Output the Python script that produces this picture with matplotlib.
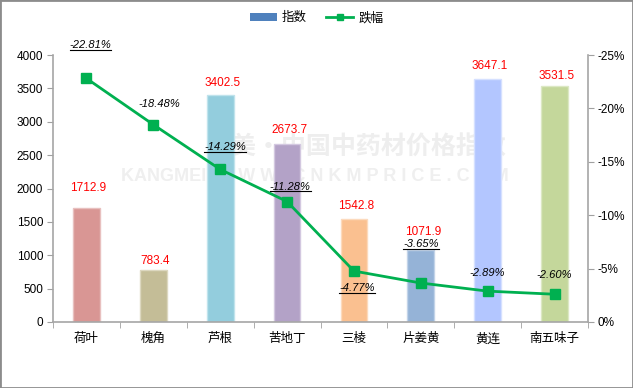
import numpy as np
import matplotlib
matplotlib.use("Agg")
import matplotlib.pyplot as plt
from matplotlib.lines import Line2D
from matplotlib.patches import Patch, Rectangle

plt.rcParams["font.family"] = ["Liberation Sans", "Noto Sans CJK SC", "DejaVu Sans"]

# ---- data ----
categories = ["荷叶", "槐角", "芦根", "苦地丁", "三棱", "片姜黄", "黄连", "南五味子"]
index_vals = [1712.9, 783.4, 3402.5, 2673.7, 1542.8, 1071.9, 3647.1, 3531.5]
drop_pct = [-22.81, -18.48, -14.29, -11.28, -4.77, -3.65, -2.89, -2.60]
underlined = [True, False, True, True, True, True, False, False]

bar_colors = ["#D99694", "#C4BD97", "#93CDDD", "#B3A2C7",
              "#FAC090", "#95B3D7", "#B3C6FF", "#C4D79B"]
bar_edges = ["#E8C0BF", "#DDD8C0", "#C0E3EC", "#D3C8E0",
             "#FCDABD", "#C2D3E8", "#D5E0FF", "#DCE8C4"]
# label offsets in pixels (style only)
bar_lbl_dy = [20, 9, 12, 14, 13, 18, 13, 10]
pct_lbl_off = [(4, 33), (6, 21), (5, 22), (3, 15), (3, -17), (0, 39), (-1, 18), (0, 19)]

# ---- figure ----
fig = plt.figure(figsize=(6.33, 3.88), dpi=100)
ax = fig.add_axes([53 / 633, 66 / 388, 535 / 633, 267 / 388])
x = np.arange(len(categories))

# watermark (behind the bars)
ax.text(356 / 633, 1 - 148 / 388, "康美·中国中药材价格指数", fontsize=18, fontweight="bold",
        color="#EEEEEE", ha="center", va="center", zorder=1, transform=fig.transFigure,
        family=["Noto Sans CJK SC"], clip_on=False)
ax.text(315 / 633, 1 - 177 / 388, "KANGMEI  W W W . C N K M P R I C E . C O M",
        fontsize=13, fontweight="bold", color="#EFEFEF", ha="center", va="center",
        zorder=1, transform=fig.transFigure, clip_on=False)

ax.set_facecolor("none")
ax.bar(x, index_vals, width=0.4, color=bar_colors, edgecolor=bar_edges, linewidth=1, zorder=2)
for i, v in enumerate(index_vals):
    ax.annotate(f"{v:.1f}", (x[i], v), xytext=(2, bar_lbl_dy[i]), textcoords="offset pixels",
                ha="center", va="center", color="#FF0000", fontsize=8.5)

ax.set_xlim(-0.5, len(categories) - 0.5)
ax.set_ylim(0, 4000)
ax.set_yticks(np.arange(0, 4001, 500))
ax.set_xticks(x)
ax.set_xticklabels(categories, fontsize=9)
ax.set_xticks(np.arange(-0.5, len(categories)), minor=True)
ax.tick_params(axis="x", which="major", length=0, pad=8)
ax.tick_params(axis="x", which="minor", length=4, color="#A0A0A0")
ax.tick_params(axis="y", length=4, color="#A0A0A0", labelsize=8.5, pad=3)
for s in ["top", "right"]:
    ax.spines[s].set_visible(False)
for s in ["left", "bottom"]:
    ax.spines[s].set_color("#A6A6A6")
    ax.spines[s].set_linewidth(1.2)

ax2 = ax.twinx()
ax2.plot(x, drop_pct, color="#00B050", linewidth=2, marker="s", markersize=7,
         markerfacecolor="#00B050", markeredgecolor="#00B050", zorder=5)
ax2.set_ylim(0, -25)
ax2.set_yticks(np.arange(0, -26, -5))
ax2.set_yticklabels(["0%" if t == 0 else f"-{abs(t)}%" for t in range(0, 26, 5)])
ax2.tick_params(axis="y", length=4, color="#A0A0A0", labelsize=8.5, pad=3)
for s in ["top", "left", "bottom"]:
    ax2.spines[s].set_visible(False)
ax2.spines["right"].set_color("#A6A6A6")
ax2.spines["right"].set_linewidth(1.2)

pct_texts = []
for i, v in enumerate(drop_pct):
    t = ax2.annotate(f"{v:.2f}%", (x[i], v), xytext=pct_lbl_off[i], textcoords="offset pixels",
                     ha="center", va="center", fontsize=8, style="italic", color="black", zorder=6)
    pct_texts.append(t)

# legend
handles = [Patch(facecolor="#4F81BD", edgecolor="none"),
           Line2D([0], [0], color="#00B050", linewidth=2, marker="s", markersize=5)]
fig.legend(handles, ["指数", "跌幅"], loc="center", bbox_to_anchor=(0.5, 1 - 18 / 388),
           ncol=2, frameon=False, fontsize=9, handlelength=2.2, handleheight=0.6,
           columnspacing=1.5, handletextpad=0.4)

# figure border
fig.patches.append(Rectangle((0, 0), 1, 1, transform=fig.transFigure, fill=False,
                             edgecolor="#8C8C8C", linewidth=2, zorder=10))

# underline selected percentage labels
fig.canvas.draw()
r = fig.canvas.get_renderer()
for t, u in zip(pct_texts, underlined):
    if not u:
        continue
    bb = t.get_window_extent(r)
    y0 = (bb.y0 + 0.5) / fig.bbox.height
    fig.add_artist(Line2D([bb.x0 / fig.bbox.width, bb.x1 / fig.bbox.width], [y0, y0],
                          transform=fig.transFigure, color="black", linewidth=0.8))

fig.savefig("out.png", dpi=100)
